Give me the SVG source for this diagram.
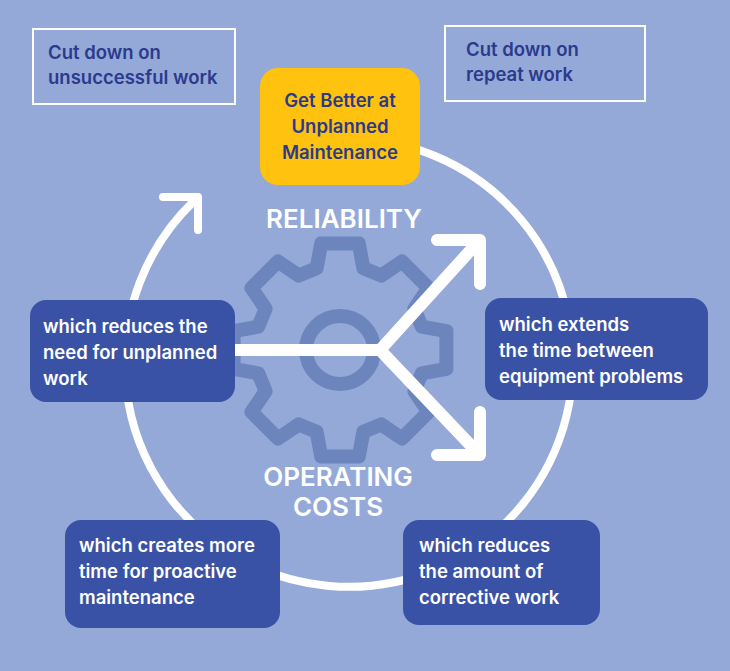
<svg xmlns="http://www.w3.org/2000/svg" width="730" height="671" viewBox="0 0 730 671">
<style>
.t{font-family:Inter,"Open Sans","Liberation Sans",sans-serif;font-weight:600;font-size:18.5px}
.w{fill:#fff}.d{fill:#2B3A8C}
.ob{fill:none;stroke:#fff;stroke-width:2}
.bb{fill:#3A52A6}
.big{font-family:Inter,"Open Sans","Liberation Sans",sans-serif;font-weight:600;font-size:26px;fill:#fff;text-anchor:middle}
.ln{fill:none;stroke:#fff;stroke-linecap:round;stroke-linejoin:round}
</style>
<rect width="730" height="671" fill="#94A9D8"/>
<g id="gear" transform="translate(340,350)" fill="none" stroke="#6C85BD" stroke-width="14" stroke-linejoin="round">
<polygon points="81.7,-23.4 106.4,-18.8 106.4,18.8 81.7,23.4 74.4,41.2 88.5,62 62,88.5 41.2,74.4 23.4,81.7 18.8,106.4 -18.8,106.4 -23.4,81.7 -41.2,74.4 -62,88.5 -88.5,62 -74.4,41.2 -81.7,23.4 -106.4,18.8 -106.4,-18.8 -81.7,-23.4 -74.4,-41.2 -88.5,-62 -62,-88.5 -41.2,-74.4 -23.4,-81.7 -18.8,-106.4 18.8,-106.4 23.4,-81.7 41.2,-74.4 62,-88.5 88.5,-62 74.4,-41.2"/>
<circle r="34"/>
</g>
<g id="connectors">
<path class="ln" stroke-width="8" d="M340 139 A224 224 0 1 1 194 201"/>
<path class="ln" stroke-width="8" d="M163 197 L198 197 L198 230"/>
<path class="ln" stroke-width="12" d="M235 350 L380 350 L478 242 M380 350 L478 453"/>
<path class="ln" stroke-width="12" d="M437 240 L480 240 L480 284 M437 455 L480 455 L480 412"/>
</g>
<g id="n1"><rect class="ob" x="33" y="29" width="202" height="75"/>
<text class="t d" x="48" y="59">Cut down on</text><text class="t d" x="48" y="84">unsuccessful work</text></g>
<g id="n2"><rect class="ob" x="445" y="26" width="200" height="75"/>
<text class="t d" x="466" y="56">Cut down on</text><text class="t d" x="466" y="81">repeat work</text></g>
<g id="n3"><rect x="260" y="68" width="160" height="117" rx="18" fill="#FEC20F"/>
<text class="t d" text-anchor="middle" x="340" y="107">Get Better at</text><text class="t d" text-anchor="middle" x="340" y="133">Unplanned</text><text class="t d" text-anchor="middle" x="340" y="159">Maintenance</text></g>
<text class="big" x="344" y="228">RELIABILITY</text>
<text class="big" x="338" y="486">OPERATING</text>
<text class="big" x="338" y="516">COSTS</text>
<g id="n4"><rect class="bb" x="30" y="300" width="205" height="102" rx="16"/>
<text class="t w" x="43" y="333">which reduces the</text><text class="t w" x="43" y="359">need for unplanned</text><text class="t w" x="43" y="385">work</text></g>
<g id="n5"><rect class="bb" x="485" y="298" width="223" height="102" rx="16"/>
<text class="t w" x="499" y="331">which extends</text><text class="t w" x="499" y="357">the time between</text><text class="t w" x="499" y="383">equipment problems</text></g>
<g id="n6"><rect class="bb" x="65" y="520" width="215" height="108" rx="16"/>
<text class="t w" x="79" y="552">which creates more</text><text class="t w" x="79" y="578">time for proactive</text><text class="t w" x="79" y="604">maintenance</text></g>
<g id="n7"><rect class="bb" x="403" y="520" width="197" height="105" rx="16"/>
<text class="t w" x="419" y="552">which reduces</text><text class="t w" x="419" y="578">the amount of</text><text class="t w" x="419" y="604">corrective work</text></g>
</svg>
